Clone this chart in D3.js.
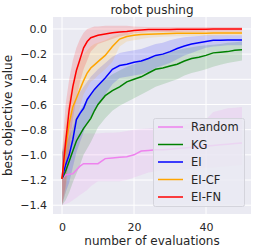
<!DOCTYPE html>
<html>
<head>
<meta charset="utf-8">
<script src="https://cdn.jsdelivr.net/npm/d3@7"></script>
<style>
  body { margin: 0; background: #fff; }
  text { font-family: "DejaVu Sans", sans-serif; fill: #262626; }
</style>
</head>
<body>
<svg id="chart" width="256" height="250"></svg>
<script>
// number of evaluations
const evals = [0, 1, 2, 3, 4, 5, 6, 7, 8, 9, 10, 12, 14, 16, 18, 20, 22, 24, 26, 28, 30, 32, 34, 36, 38, 40, 42, 44, 46, 48, 50];

const randomMean = [-1.19, -1.16, -1.155, -1.15, -1.12, -1.09, -1.07, -1.07, -1.07, -1.07, -1.07, -1.03, -1.025, -1.02, -1.015, -1.0, -0.97, -0.965, -0.96, -0.96, -0.955, -0.95, -0.945, -0.94, -0.935, -0.93, -0.925, -0.92, -0.915, -0.91, -0.905];
const randomLo = [-1.40, -1.39, -1.38, -1.36, -1.34, -1.32, -1.30, -1.28, -1.25, -1.23, -1.21, -1.21, -1.21, -1.21, -1.20, -1.18, -1.16, -1.14, -1.13, -1.125, -1.12, -1.12, -1.115, -1.11, -1.105, -1.10, -1.10, -1.095, -1.09, -1.085, -1.08];
const randomHi = [-0.98, -0.94, -0.90, -0.87, -0.84, -0.835, -0.83, -0.83, -0.83, -0.83, -0.83, -0.825, -0.825, -0.82, -0.81, -0.80, -0.795, -0.79, -0.785, -0.78, -0.77, -0.765, -0.76, -0.75, -0.74, -0.72, -0.66, -0.645, -0.63, -0.625, -0.62];

const kgMean = [-1.19, -1.13, -1.05, -0.97, -0.89, -0.84, -0.79, -0.75, -0.71, -0.65, -0.60, -0.53, -0.49, -0.46, -0.42, -0.40, -0.38, -0.35, -0.32, -0.31, -0.295, -0.28, -0.255, -0.235, -0.225, -0.21, -0.19, -0.185, -0.18, -0.17, -0.165];
const kgLo = [-1.40, -1.36, -1.30, -1.22, -1.15, -1.08, -1.00, -0.95, -0.90, -0.84, -0.78, -0.71, -0.65, -0.61, -0.58, -0.55, -0.52, -0.49, -0.46, -0.44, -0.42, -0.40, -0.37, -0.35, -0.335, -0.32, -0.30, -0.285, -0.27, -0.26, -0.25];
const kgHi = [-0.98, -0.92, -0.85, -0.78, -0.70, -0.65, -0.60, -0.56, -0.52, -0.48, -0.45, -0.40, -0.36, -0.33, -0.30, -0.28, -0.26, -0.235, -0.21, -0.195, -0.18, -0.17, -0.155, -0.145, -0.135, -0.13, -0.125, -0.12, -0.11, -0.105, -0.10];

const eiMean = [-1.19, -1.08, -1.0, -0.88, -0.72, -0.67, -0.63, -0.56, -0.52, -0.48, -0.45, -0.39, -0.32, -0.29, -0.28, -0.265, -0.255, -0.235, -0.21, -0.20, -0.18, -0.155, -0.135, -0.12, -0.11, -0.10, -0.09, -0.09, -0.088, -0.088, -0.087];
const eiLo = [-1.40, -1.30, -1.22, -1.10, -0.98, -0.90, -0.82, -0.75, -0.70, -0.65, -0.60, -0.52, -0.44, -0.39, -0.38, -0.37, -0.36, -0.34, -0.31, -0.29, -0.27, -0.24, -0.21, -0.19, -0.17, -0.15, -0.14, -0.135, -0.13, -0.13, -0.13];
const eiHi = [-0.98, -0.85, -0.75, -0.65, -0.55, -0.50, -0.46, -0.42, -0.38, -0.35, -0.32, -0.27, -0.22, -0.19, -0.18, -0.17, -0.16, -0.14, -0.12, -0.11, -0.09, -0.075, -0.065, -0.06, -0.055, -0.05, -0.05, -0.05, -0.05, -0.05, -0.05];

const eicfMean = [-1.19, -0.95, -0.75, -0.62, -0.55, -0.48, -0.41, -0.35, -0.31, -0.285, -0.26, -0.21, -0.14, -0.08, -0.06, -0.05, -0.045, -0.043, -0.04, -0.038, -0.036, -0.035, -0.035, -0.034, -0.034, -0.034, -0.033, -0.033, -0.033, -0.033, -0.033];
const eicfLo = [-1.40, -1.30, -1.05, -0.85, -0.72, -0.62, -0.52, -0.47, -0.42, -0.40, -0.37, -0.32, -0.26, -0.14, -0.10, -0.09, -0.08, -0.07, -0.065, -0.062, -0.06, -0.058, -0.057, -0.056, -0.055, -0.055, -0.053, -0.052, -0.051, -0.05, -0.05];
const eicfHi = [-0.98, -0.75, -0.55, -0.42, -0.32, -0.25, -0.20, -0.17, -0.14, -0.12, -0.11, -0.09, -0.06, -0.04, -0.03, -0.025, -0.022, -0.02, -0.018, -0.016, -0.015, -0.015, -0.015, -0.015, -0.015, -0.015, -0.015, -0.015, -0.015, -0.015, -0.015];

const eifnMean = [-1.19, -0.90, -0.64, -0.46, -0.33, -0.24, -0.15, -0.10, -0.07, -0.06, -0.05, -0.04, -0.03, -0.025, -0.02, -0.012, -0.008, -0.005, -0.005, -0.004, -0.004, -0.003, -0.003, -0.002, -0.002, -0.002, -0.001, -0.001, -0.001, 0.0, 0.0];
const eifnLo = [-1.40, -1.25, -0.95, -0.72, -0.55, -0.42, -0.32, -0.25, -0.18, -0.15, -0.12, -0.10, -0.08, -0.06, -0.05, -0.035, -0.03, -0.025, -0.025, -0.025, -0.025, -0.024, -0.023, -0.022, -0.022, -0.021, -0.02, -0.02, -0.02, -0.02, -0.02];
const eifnHi = [-0.98, -0.60, -0.40, -0.25, -0.15, -0.08, -0.03, 0.0, 0.01, 0.02, 0.02, 0.025, 0.025, 0.025, 0.025, 0.02, 0.018, 0.016, 0.015, 0.015, 0.015, 0.015, 0.015, 0.015, 0.015, 0.015, 0.015, 0.015, 0.015, 0.015, 0.015];

const series = [
  { name: 'Random', color: 'violet', mean: randomMean, lo: randomLo, hi: randomHi },
  { name: 'KG', color: 'green', mean: kgMean, lo: kgLo, hi: kgHi },
  { name: 'EI', color: 'blue', mean: eiMean, lo: eiLo, hi: eiHi },
  { name: 'EI-CF', color: 'orange', mean: eicfMean, lo: eicfLo, hi: eicfHi },
  { name: 'EI-FN', color: 'red', mean: eifnMean, lo: eifnLo, hi: eifnHi },
];

const xTicks = [0, 20, 40];
const yTicks = [0.0, -0.2, -0.4, -0.6, -0.8, -1.0, -1.2, -1.4];

const plot = { left: 53, right: 251, top: 17, bottom: 214 };

const svg = d3.select('#chart');

const x = d3.scaleLinear()
  .domain([-2.5, 52.5])
  .range([plot.left, plot.right]);

const y = d3.scaleLinear()
  .domain([-1.47, 0.095])
  .range([plot.bottom, plot.top]);

svg.append('rect')
  .attr('x', plot.left)
  .attr('y', plot.top)
  .attr('width', plot.right - plot.left)
  .attr('height', plot.bottom - plot.top)
  .attr('fill', '#eaeaf2');

// grid
svg.append('g')
  .selectAll('line')
  .data(yTicks)
  .join('line')
  .attr('x1', plot.left)
  .attr('x2', plot.right)
  .attr('y1', d => y(d))
  .attr('y2', d => y(d))
  .attr('stroke', '#fff')
  .attr('stroke-width', 1);

svg.append('g')
  .selectAll('line')
  .data(xTicks)
  .join('line')
  .attr('y1', plot.top)
  .attr('y2', plot.bottom)
  .attr('x1', d => x(d))
  .attr('x2', d => x(d))
  .attr('stroke', '#fff')
  .attr('stroke-width', 1);

const area = d3.area()
  .x(d => x(d.x))
  .y0(d => y(d.lo))
  .y1(d => y(d.hi));

const line = d3.line()
  .x(d => x(d.x))
  .y(d => y(d.mean));

const rows = s => evals.map((e, i) => ({ x: e, mean: s.mean[i], lo: s.lo[i], hi: s.hi[i] }));

const marks = svg.append('g');

series.forEach(s => {
  marks.append('path')
    .attr('d', area(rows(s)))
    .attr('fill', s.color)
    .attr('opacity', 0.15);
});

series.forEach(s => {
  marks.append('path')
    .attr('d', line(rows(s)))
    .attr('fill', 'none')
    .attr('stroke', s.color)
    .attr('stroke-width', 1.5);
});

// axes
const fmt = d3.format('.1f');
svg.append('g')
  .attr('transform', `translate(0,${plot.bottom})`)
  .call(d3.axisBottom(x).tickValues(xTicks).tickSize(0).tickPadding(9).tickFormat(d3.format('d')))
  .call(g => g.select('.domain').remove())
  .call(g => g.selectAll('text').attr('font-size', 11).attr('fill', '#262626'));

svg.append('g')
  .attr('transform', `translate(${plot.left},0)`)
  .call(d3.axisLeft(y).tickValues(yTicks).tickSize(0).tickPadding(6).tickFormat(fmt))
  .call(g => g.select('.domain').remove())
  .call(g => g.selectAll('text').attr('font-size', 11).attr('fill', '#262626'));

svg.append('text')
  .attr('x', (plot.left + plot.right) / 2)
  .attr('y', 14)
  .attr('text-anchor', 'middle')
  .attr('font-size', 12)
  .text('robot pushing');

svg.append('text')
  .attr('x', (plot.left + plot.right) / 2)
  .attr('y', 245)
  .attr('text-anchor', 'middle')
  .attr('font-size', 12)
  .text('number of evaluations');

svg.append('text')
  .attr('transform', `translate(12,${(plot.top + plot.bottom) / 2}) rotate(-90)`)
  .attr('text-anchor', 'middle')
  .attr('font-size', 12)
  .text('best objective value');

// legend
const legend = svg.append('g');
legend.append('rect')
  .attr('x', 153.5)
  .attr('y', 118.5)
  .attr('width', 91)
  .attr('height', 88)
  .attr('rx', 2)
  .attr('fill', '#eaeaf2')
  .attr('fill-opacity', 0.8)
  .attr('stroke', '#d4d4dc');

const item = legend.selectAll('g.item')
  .data(series)
  .join('g')
  .attr('class', 'item')
  .attr('transform', (d, i) => `translate(158,${127 + i * 17.5})`);

item.append('line')
  .attr('x1', 0)
  .attr('x2', 25)
  .attr('stroke', d => d.color)
  .attr('stroke-width', 1.5);

item.append('text')
  .attr('x', 33)
  .attr('dy', '0.35em')
  .attr('font-size', 11.5)
  .text(d => d.name);
</script>
</body>
</html>
